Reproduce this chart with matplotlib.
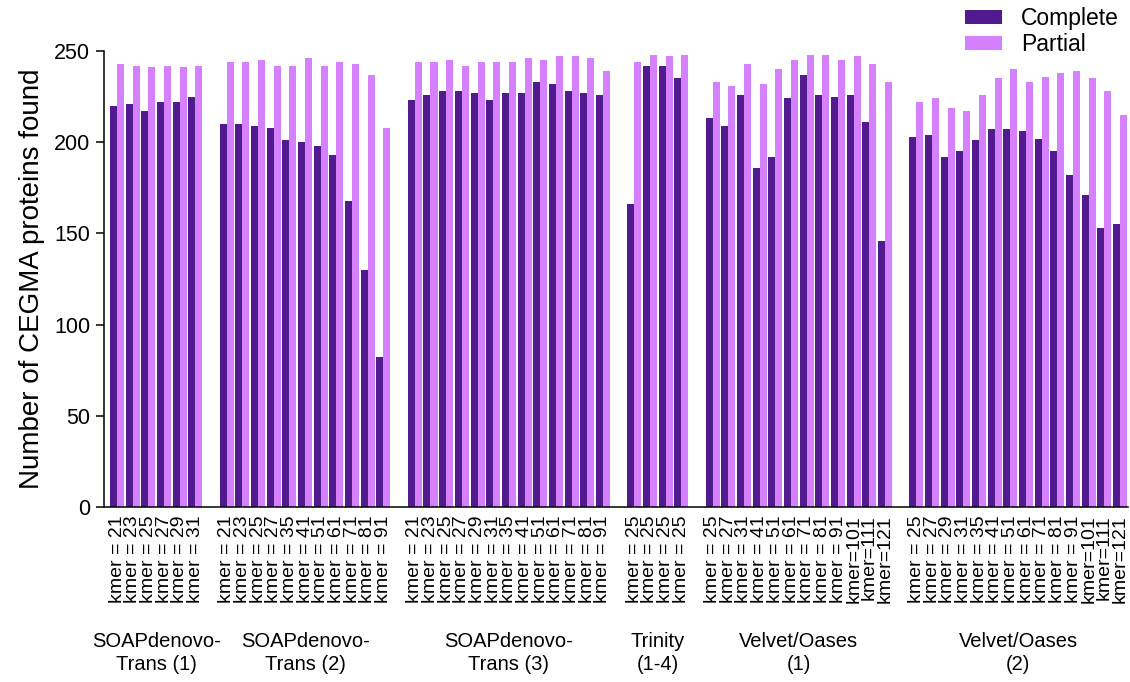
import numpy as np
import matplotlib
matplotlib.use("Agg")
import matplotlib.pyplot as plt
from matplotlib.transforms import blended_transform_factory

plt.rcParams['font.family'] = ['Liberation Sans', 'DejaVu Sans']

# CEGMA counts per assembly run (complete / partial)
soap1_k = [21, 23, 25, 27, 29, 31]
soap1_complete = [220, 221, 217, 222, 222, 225]
soap1_partial = [243, 242, 241, 242, 241, 242]

soap2_k = [21, 23, 25, 27, 35, 41, 51, 61, 71, 81, 91]
soap2_complete = [210, 210, 209, 208, 201, 200, 198, 193, 168, 130, 82]
soap2_partial = [244, 244, 245, 242, 242, 246, 242, 244, 243, 237, 208]

soap3_k = [21, 23, 25, 27, 29, 31, 35, 41, 51, 61, 71, 81, 91]
soap3_complete = [223, 226, 228, 228, 227, 223, 227, 227, 233, 232, 228, 227, 226]
soap3_partial = [244, 244, 245, 242, 244, 244, 244, 246, 245, 247, 247, 246, 239]

trinity_k = [25, 25, 25, 25]
trinity_complete = [166, 242, 242, 235]
trinity_partial = [244, 248, 247, 248]

vo1_k = [25, 27, 31, 41, 51, 61, 71, 81, 91, 101, 111, 121]
vo1_complete = [213, 209, 226, 186, 192, 224, 237, 226, 225, 226, 211, 146]
vo1_partial = [233, 231, 243, 232, 240, 245, 248, 248, 245, 247, 243, 233]

vo2_k = [25, 27, 29, 31, 35, 41, 51, 61, 71, 81, 91, 101, 111, 121]
vo2_complete = [203, 204, 192, 195, 201, 207, 207, 206, 202, 195, 182, 171, 153, 155]
vo2_partial = [222, 224, 219, 217, 226, 235, 240, 233, 236, 238, 239, 235, 228, 215]

group_names = ["SOAPdenovo-\nTrans (1)", "SOAPdenovo-\nTrans (2)", "SOAPdenovo-\nTrans (3)",
               "Trinity\n(1-4)", "Velvet/Oases\n(1)", "Velvet/Oases\n(2)"]
group_k = [soap1_k, soap2_k, soap3_k, trinity_k, vo1_k, vo2_k]
group_complete = [soap1_complete, soap2_complete, soap3_complete, trinity_complete, vo1_complete, vo2_complete]
group_partial = [soap1_partial, soap2_partial, soap3_partial, trinity_partial, vo1_partial, vo2_partial]

c_complete = "#521A8F"
c_partial = "#D580FF"

# slot positions, one empty slot between groups
xs, labels, comp, part, centers = [], [], [], [], []
pos = 0
for ks, cs, ps in zip(group_k, group_complete, group_partial):
    gx = np.arange(pos, pos + len(ks))
    xs.extend(gx)
    centers.append(gx.mean())
    labels.extend([f"kmer = {k}" if k < 100 else f"kmer={k}" for k in ks])
    comp.extend(cs)
    part.extend(ps)
    pos += len(ks) + 1
xs = np.array(xs)

fig = plt.figure(figsize=(11.3, 6.82), dpi=100)
ax = fig.add_axes([104 / 1130, 175 / 682, 1024 / 1130, 456 / 682])

w = 0.447
ax.bar(xs - w / 2, comp, width=w, color=c_complete, label="Complete")
ax.bar(xs + w / 2, part, width=w, color=c_partial, label="Partial")

ax.set_xlim(-0.83, 64.5)
ax.set_ylim(0, 250)
ax.set_yticks(np.arange(0, 251, 50))
ax.set_xticks(xs)
ax.set_xticklabels(labels, rotation=90, va="top", ha="center", fontsize=14)
ax.tick_params(axis="x", length=0, pad=6)
ax.tick_params(axis="y", length=6, width=1.1, labelsize=15.5, pad=4)

for s in ["top", "right"]:
    ax.spines[s].set_visible(False)
for s in ["left", "bottom"]:
    ax.spines[s].set_linewidth(1.1)

ax.set_ylabel("Number of CEGMA proteins found", fontsize=20)
ax.yaxis.set_label_coords(-0.058, 0.5)

trans = blended_transform_factory(ax.transData, ax.transAxes)
for cx, name in zip(centers, group_names):
    ax.text(cx, -0.274, name, transform=trans, ha="center", va="top",
            fontsize=14.5, linespacing=1.25)

fig.legend(loc="upper right", bbox_to_anchor=(1119 / 1130, 1 - 7 / 682), frameon=False,
           fontsize=16.5, handlelength=1.6, handleheight=0.57, handletextpad=0.85,
           labelspacing=0.12, borderpad=0, borderaxespad=0)

fig.savefig("out.png", dpi=100)
